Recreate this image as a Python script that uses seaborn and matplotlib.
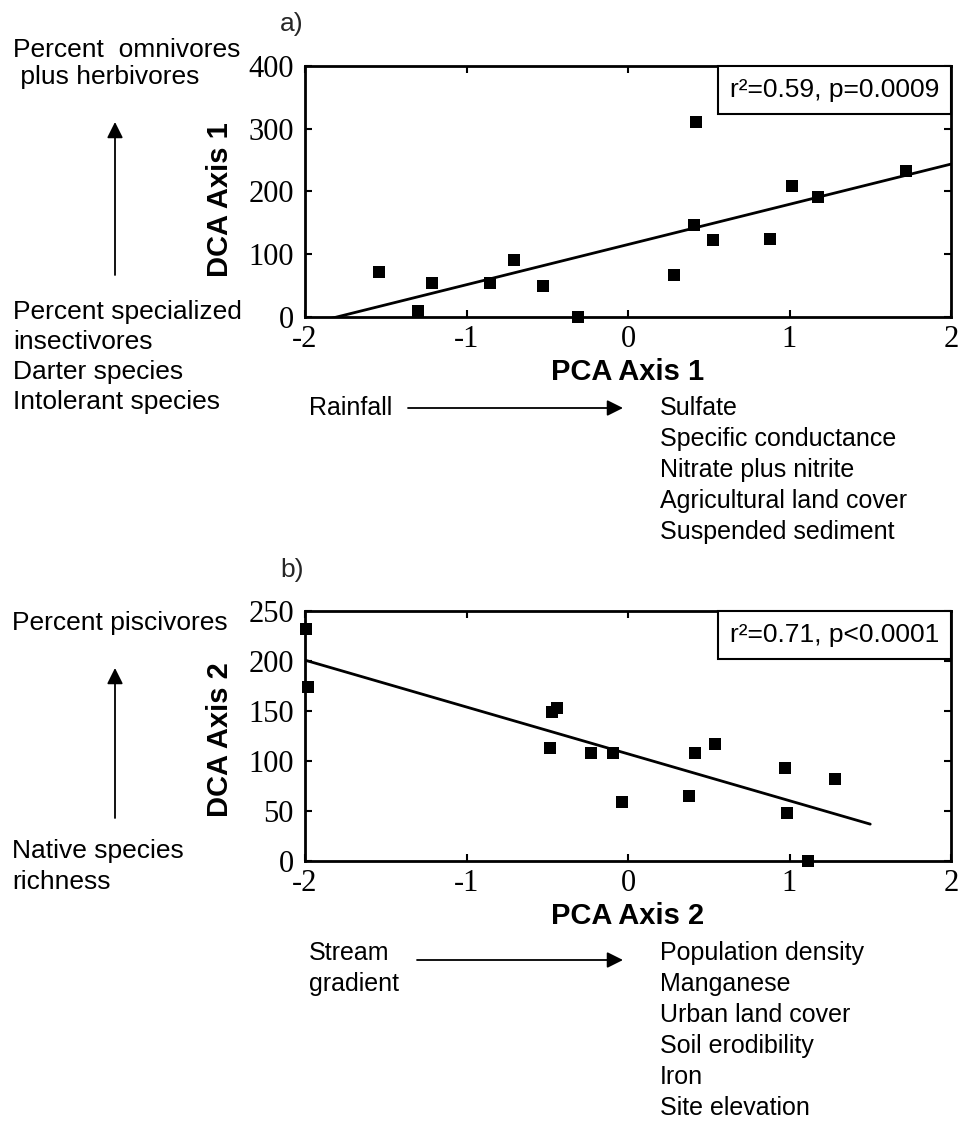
import numpy as np
import pandas as pd
import seaborn as sns
import matplotlib
import matplotlib.pyplot as plt
from matplotlib.offsetbox import AnchoredText

sns.set_theme(style="white")
plt.rcParams['font.family'] = ['Liberation Sans', 'DejaVu Sans']
plt.rcParams['axes.unicode_minus'] = False

# ---------------- data ----------------
pca_axis1 = [-1.54, -1.30, -1.215, -0.856, -0.706, -0.524, -0.307, 0.283,
             0.419, 0.406, 0.526, 0.877, 1.014, 1.175, 1.719]
dca_axis1 = [71, 9.5, 54, 54, 91.6, 50, 0, 67,
             310, 146, 122, 125, 208, 191, 232]

pca_axis2 = [-1.995, -1.98, -0.47, -0.44, -0.48, -0.23, -0.09, -0.04,
             0.376, 0.417, 0.54, 0.97, 0.985, 1.116, 1.28]
dca_axis2 = [232, 174, 149, 153, 113, 108, 108, 59,
             65, 108, 117, 93, 48, 0, 82]

stats_a = "r²=0.59, p=0.0009"
stats_b = "r²=0.71, p<0.0001"

xticks = [-2, -1, 0, 1, 2]
yticks_a = [0, 100, 200, 300, 400]
yticks_b = [0, 50, 100, 150, 200, 250]
fit_span_a = [-2.0, 2.0]
fit_span_b = [-2.0, 1.5]

top_left_a = ["Percent  omnivores", " plus herbivores"]
bottom_left_a = ["Percent specialized", "insectivores", "Darter species", "Intolerant species"]
low_side_a = ["Rainfall"]
high_side_a = ["Sulfate", "Specific conductance", "Nitrate plus nitrite",
               "Agricultural land cover", "Suspended sediment"]

top_left_b = ["Percent piscivores"]
bottom_left_b = ["Native species", "richness"]
low_side_b = ["Stream", "gradient"]
high_side_b = ["Population density", "Manganese", "Urban land cover",
               "Soil erodibility", "Iron", "Site elevation"]

df_a = pd.DataFrame({"PCA Axis 1": pca_axis1, "DCA Axis 1": dca_axis1})
df_b = pd.DataFrame({"PCA Axis 2": pca_axis2, "DCA Axis 2": dca_axis2})

# ---------------- figure ----------------
W, H = 959, 1122
fig = plt.figure(figsize=(W / 100, H / 100), dpi=100)
fig.patch.set_facecolor("white")


def fx(px):
    return px / W


def fy(py):
    return 1 - py / H


ax_a = fig.add_axes([fx(305), fy(317), (951 - 305) / W, (317 - 66) / H])
ax_b = fig.add_axes([fx(305), fy(861), (951 - 305) / W, (861 - 611) / H])

TICK_FS = 22
LABEL_FS = 21
LEFT_FS = 19
RIGHT_FS = 18
STAT_FS = 19


def draw_panel(ax, df, xcol, ycol, span, yticks, stats, xlab_y, ylab_y):
    sns.scatterplot(data=df, x=xcol, y=ycol, marker="s", s=80, color="black",
                    edgecolor="black", linewidth=0, ax=ax, clip_on=False, zorder=3)
    coef = np.polyfit(df[xcol], df[ycol], 1)
    xs = np.array(span)
    sns.lineplot(x=xs, y=np.polyval(coef, xs), color="black", linewidth=2, ax=ax)
    ax.set_xlim(xticks[0], xticks[-1])
    ax.set_ylim(yticks[0], yticks[-1])
    ax.set_xticks(xticks)
    ax.set_yticks(yticks)
    ax.set_xticklabels([str(t) for t in xticks])
    ax.set_yticklabels([str(t) for t in yticks])
    ax.tick_params(axis="both", direction="in", length=5, width=1.5, colors="black",
                   top=True, right=True, bottom=True, left=True, labelsize=TICK_FS)
    ax.tick_params(axis="y", pad=8)
    ax.tick_params(axis="x", pad=6)
    for lab in ax.get_xticklabels() + ax.get_yticklabels():
        lab.set_fontfamily("Liberation Serif")
        lab.set_color("black")
    for sp in ax.spines.values():
        sp.set_visible(True)
        sp.set_color("black")
        sp.set_linewidth(2)
    ax.set_facecolor("white")
    ax.set_xlabel(xcol, fontsize=LABEL_FS, fontweight="bold", color="black")
    ax.set_ylabel(ycol, fontsize=LABEL_FS, fontweight="bold", color="black")
    ax.xaxis.set_label_coords(0.5, xlab_y)
    ax.yaxis.set_label_coords(-0.11, ylab_y)
    at = AnchoredText(stats, loc="upper right", borderpad=0, pad=0.45,
                      prop=dict(size=STAT_FS, color="black"), frameon=True)
    at.patch.set_boxstyle("square,pad=0")
    at.patch.set_linewidth(1.5)
    at.patch.set_edgecolor("black")
    ax.add_artist(at)


draw_panel(ax_a, df_a, "PCA Axis 1", "DCA Axis 1", fit_span_a, yticks_a, stats_a,
           -0.165, 0.466)
draw_panel(ax_b, df_b, "PCA Axis 2", "DCA Axis 2", fit_span_b, yticks_b, stats_b,
           -0.166, 0.484)


def put_lines(lines, x, baselines, size):
    for line, b in zip(lines, baselines):
        fig.text(fx(x), fy(b), line, fontsize=size, ha="left", va="baseline",
                 color="black")


def arrow(x0, y0, x1, y1):
    fig.add_artist(matplotlib.patches.FancyArrowPatch(
        (fx(x0), fy(y0)), (fx(x1), fy(y1)), transform=fig.transFigure,
        arrowstyle="-|>", mutation_scale=24, linewidth=1.3, color="black",
        shrinkA=0, shrinkB=0))


# panel letters
fig.text(fx(280), fy(31), "a)", fontsize=LEFT_FS, ha="left", va="baseline")
fig.text(fx(280), fy(577), "b)", fontsize=LEFT_FS, ha="left", va="baseline")

# panel a annotations
put_lines(top_left_a, 13, [57, 84], LEFT_FS)
put_lines(bottom_left_a, 13, [319, 349, 379, 409], LEFT_FS)
arrow(115, 275, 115, 122)
put_lines(low_side_a, 309, [415], RIGHT_FS)
arrow(408, 408, 623, 408)
put_lines(high_side_a, 660, [415, 446, 477, 508, 539], RIGHT_FS)

# panel b annotations
put_lines(top_left_b, 12, [630], LEFT_FS)
put_lines(bottom_left_b, 12, [858, 889], LEFT_FS)
arrow(115, 818, 115, 668)
put_lines(low_side_b, 309, [960, 991], RIGHT_FS)
arrow(417, 960, 623, 960)
put_lines(high_side_b, 660, [960, 991, 1022, 1053, 1084, 1115], RIGHT_FS)

fig.savefig("out.png", dpi=100, facecolor="white")
